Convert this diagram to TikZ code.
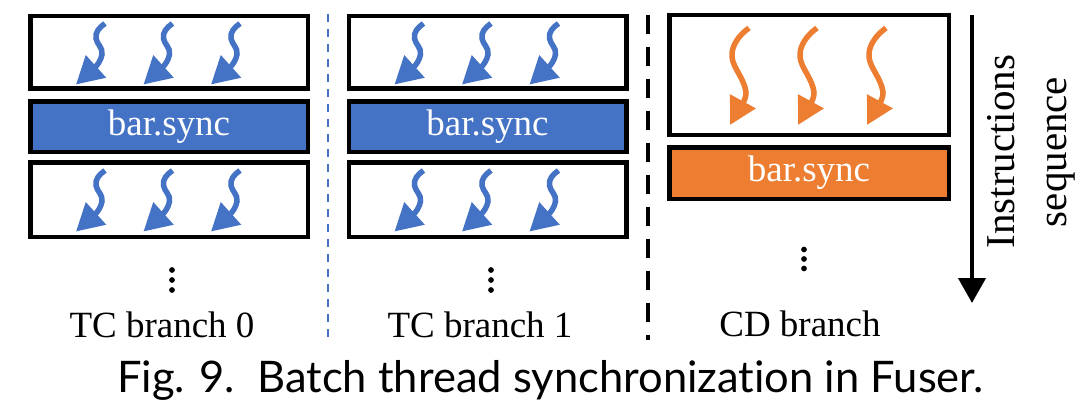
\documentclass[tikz,border=0pt]{standalone}
\usepackage{fontspec}
\setmainfont{Liberation Serif}
\newfontfamily\capfont[Ligatures={NoCommon}]{Lato}
\usetikzlibrary{arrows.meta}

\definecolor{tcblue}{HTML}{4472C4}
\definecolor{cdorange}{HTML}{ED7D31}

\newcommand{\lblfont}{\fontsize{37}{40}\selectfont}
\newcommand{\seqfont}{\fontsize{41}{44}\selectfont}

\tikzset{
    blockbox/.style={draw=black, line width=4.5pt, inner sep=0pt, minimum width=277.5pt},
    tcbar/.style={blockbox, fill=tcblue, text=white, minimum height=50.5pt, font=\lblfont},
    cdbar/.style={blockbox, fill=cdorange, text=white, minimum width=279.5pt, minimum height=51.5pt, font=\lblfont},
    tcwave/.style={draw=tcblue, line width=5.5pt, -{Triangle[length=27pt,width=29pt]}},
    cdwave/.style={draw=cdorange, line width=5.5pt, -{Triangle[length=27pt,width=28pt]}},
    branchlbl/.style={anchor=base, inner sep=0pt, font=\lblfont},
    seqlbl/.style={anchor=base, rotate=90, inner sep=0pt, font=\seqfont},
}

\begin{document}
\begin{tikzpicture}[x=1pt, y=-1pt] %Sincronizacion de hilos
    \useasboundingbox (0,0) rectangle (1090,412);

    % bloques de las ramas TC
    \node[blockbox, minimum height=72.5pt] (tcAtop) at (169,52.5) {};
    \node[tcbar] (tcAbar) at (169,126.5) {bar.sync};
    \node[blockbox, minimum height=74.5pt] (tcAbot) at (169,199.5) {};

    \node[blockbox, minimum height=72.5pt] (tcBtop) at (487.5,52.5) {};
    \node[tcbar] (tcBbar) at (487.5,126.5) {bar.sync};
    \node[blockbox, minimum height=74.5pt] (tcBbot) at (487.5,199.5) {};

    % rama CD
    \node[blockbox, minimum width=279.5pt, minimum height=119.5pt] (cdtop) at (809,75) {};
    \node[cdbar] (cdbar) at (809,173) {bar.sync};

    % hilos
    \foreach \cx in {169,487.5}
        \foreach \cy in {23.5,170.5}
            \foreach \dx in {-64,3.5,71}
                \draw[tcwave, shift={(\cx+\dx,\cy)}] (0,0) .. controls (-6,4) and (-10,9) .. (-9,15)
                    .. controls (-8,21) and (-2,24) .. (-3,31) .. controls (-4,37) and (-8,42) .. (-29,61);

    \foreach \dx in {-60,8,77}
        \draw[cdwave, shift={(809+\dx,28)}] (0,0) .. controls (-10,7) and (-18,18) .. (-17,29)
            .. controls (-16,40) and (-5,50) .. (-3,64) .. controls (-2,72) and (-13,86) .. (-19,97);

    % separadores
    \coordinate (sepAtop) at (328,14);
    \coordinate (sepAbot) at (328,340);
    \coordinate (sepBtop) at (648,15);
    \coordinate (sepBbot) at (648,340);
    \draw[tcblue, line width=1.8pt, dash pattern=on 8pt off 7pt] (sepAtop) -- (sepAbot);
    \draw[black, line width=4pt, dash pattern=on 19pt off 13pt] (sepBtop) -- (sepBbot);

    % puntos suspensivos
    \foreach \y in {270,280,290} {
        \filldraw (172,\y) circle (2.6pt);
        \filldraw (491,\y) circle (2.6pt);
    }
    \foreach \y in {249.5,259,268.5}
        \filldraw (804,\y) circle (2.6pt);

    \node[branchlbl] (tcAlbl) at (162,337) {TC branch 0};
    \node[branchlbl] (tcBlbl) at (480,337) {TC branch 1};
    \node[branchlbl] (cdlbl) at (800,336) {CD branch};

    % secuencia de instrucciones
    \coordinate (seqtop) at (972,15);
    \coordinate (seqbot) at (972,303);
    \draw[line width=4pt, -{Triangle[length=25pt,width=27pt]}] (seqtop) -- (seqbot);
    \node[seqlbl] (seqA) at (1014,151.5) {Instructions};
    \node[seqlbl] (seqB) at (1066,152) {sequence};

    \node[anchor=base, inner sep=0pt, font=\capfont\fontsize{43.5}{46}\selectfont] (figcap) at (550.5,392) {Fig. 9.\ \ Batch thread synchronization in Fuser.};
\end{tikzpicture}
\end{document}
